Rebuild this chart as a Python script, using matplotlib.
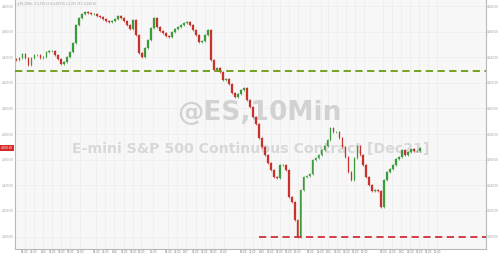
import matplotlib
matplotlib.use("Agg")
import matplotlib.pyplot as plt
import numpy as np

# ---- data ----
closes = [4437.8, 4439.4, 4442.5, 4439.4, 4433.9, 4439.4, 4441.7, 4441.7, 4439.4, 4440.2,
          4444.1, 4444.9, 4444.9, 4441.7, 4438.6, 4434.7, 4436.3, 4440.2, 4444.1, 4451.1,
          4465.2, 4470.6, 4473.8, 4475.3, 4474.5, 4473.8, 4473.8, 4472.2, 4471.4, 4469.9,
          4468.3, 4467.5, 4468.3, 4469.9, 4472.2, 4470.6, 4468.3, 4465.2, 4462.0, 4469.1,
          4457.3, 4443.3, 4440.2, 4447.2, 4453.4, 4462.8, 4470.6, 4463.6, 4460.5, 4458.9,
          4456.6, 4455.8, 4459.7, 4462.0, 4463.6, 4465.2, 4466.7, 4467.5, 4465.2, 4461.3,
          4457.3, 4451.9, 4452.7, 4457.3, 4461.3, 4437.8, 4430.0, 4431.6, 4428.4, 4422.2,
          4423.0, 4419.1, 4412.0, 4408.9, 4411.3, 4414.4, 4416.0, 4406.6, 4401.1, 4393.3,
          4387.8, 4376.9, 4369.9, 4363.6, 4357.4, 4351.9, 4346.4, 4345.6, 4355.8, 4355.8,
          4351.9, 4330.8, 4326.9, 4312.8, 4299.5, 4336.3, 4346.4, 4347.2, 4348.8, 4359.7,
          4361.3, 4363.6, 4367.5, 4370.6, 4375.3, 4384.7, 4381.6, 4381.6, 4376.9, 4369.9,
          4362.0, 4350.3, 4344.1, 4361.3, 4370.6, 4363.6, 4355.8, 4346.4, 4340.2, 4335.5,
          4336.3, 4335.5, 4323.0, 4344.1, 4350.3, 4352.7, 4355.8, 4360.5, 4362.0, 4367.5,
          4363.6, 4366.0, 4368.3, 4366.7, 4366.7, 4369.1]
first_open = 4438.5

support_level = 4429.0
low_level = 4299.5
last_price_label = "4,368.50"

y_ticks = [4300, 4320, 4340, 4360, 4380, 4400, 4420, 4440, 4460, 4480]
y_tick_labels = ["4,300.00", "4,320.00", "4,340.00", "4,360.00", "4,380.00",
                 "4,400.00", "4,420.00", "4,440.00", "4,460.00", "4,480.00"]

x_tick_pos = [2.7, 5.7, 9.0, 12.0, 15.0, 18.0, 21.3,
              26.7, 29.7, 32.7, 36.0, 39.0, 41.7, 45.7,
              50.7, 53.7, 56.7, 60.0, 63.0, 66.0, 69.3,
              76.0, 79.0, 82.0, 85.0, 88.0, 91.0, 94.0,
              98.3, 101.7, 104.3, 107.3, 110.3, 113.3, 116.3,
              122.7, 125.7, 128.7, 131.7, 134.7, 137.7, 140.7]
x_tick_labels = ["18:00", "21:00", "9/15", "03:00", "06:00", "09:00", "12:00",
                 "18:00", "21:00", "9/16", "03:00", "06:00", "09:00", "12:00",
                 "18:00", "21:00", "9/17", "03:00", "06:00", "09:00", "12:00",
                 "18:00", "21:00", "9/20", "03:00", "06:00", "09:00", "12:00",
                 "18:00", "21:00", "9/21", "03:00", "06:00", "09:00", "12:00",
                 "18:00", "21:00", "9/22", "03:00", "06:00", "09:00", "12:00"]

# ---- figure ----
fig = plt.figure(figsize=(5.0, 2.56), dpi=100)
fig.patch.set_facecolor("white")
ax = fig.add_axes([0.03, 0.027, 0.942, 0.973])
ax.set_facecolor("#f7f7f7")

opens = [first_open] + closes[:-1]
green = "#3d9a3d"
red = "#c8322d"
for i, (o, c) in enumerate(zip(opens, closes)):
    col = green if c >= o else red
    lo, hi = min(o, c), max(o, c)
    ax.vlines(i, lo - 0.8, hi + 0.8, color=col, linewidth=0.5, zorder=3)
    ax.bar(i, max(hi - lo, 0.3), bottom=lo, width=0.6, color=col,
           edgecolor=col, linewidth=0.2, zorder=4)

xmax = 157
ax.set_xlim(-0.5, xmax)
ax.set_ylim(4290.2, 4484.7)

ax.axhline(support_level, color="#6a9a10", linestyle=(0, (4, 2.5)), linewidth=1.3, zorder=5)
ax.hlines(low_level, 81, xmax, color="#d0303a", linestyle=(0, (4, 2.5)), linewidth=1.3, zorder=5)

ax.set_yticks(y_ticks)
ax.set_yticklabels(y_tick_labels)
ax.tick_params(axis="y", labelsize=2.0, colors="#a0a0a0", length=0, pad=0.8,
               labelleft=True, labelright=True, left=False, right=False)
ax.set_xticks(x_tick_pos)
ax.set_xticklabels(x_tick_labels)
ax.tick_params(axis="x", labelsize=1.9, colors="#808080", length=0, pad=1)

ax.grid(True, color="#ececec", linewidth=0.5)
ax.set_axisbelow(True)
ax.spines["top"].set_visible(False)
for s in ["left", "right", "bottom"]:
    ax.spines[s].set_color("#b8b8b8")
    ax.spines[s].set_linewidth(0.8)

# watermarks
ax.text(0.52, 0.545, "@ES,10Min", transform=ax.transAxes, fontsize=19,
        fontweight="bold", color="#d2d2d2", ha="center", va="center", zorder=1,
        family="DejaVu Sans")
ax.text(0.50, 0.40, "E-mini S&P 500 Continuous Contract [Dec21]", transform=ax.transAxes,
        fontsize=10.2, fontweight="bold", color="#d8d8d8", ha="center", va="center",
        zorder=1, family="DejaVu Sans")

# header
ax.text(0.005, 0.996, "@ES,10Min  O:4,368.25 H:4,369.50 L:4,367.75 C:4,368.50",
        transform=ax.transAxes, fontsize=2.0, color="#a0a0a0", ha="left", va="top")

# last price label
ax.annotate(last_price_label, xy=(0, closes[-1]), xycoords=("axes fraction", "data"),
            xytext=(-1.2, 0), textcoords="offset points", ha="right", va="center",
            fontsize=2.0, color="white",
            bbox=dict(boxstyle="square,pad=0.35", fc="#d42a2a", ec="none"))

fig.savefig("out.png", dpi=100, facecolor="white")
